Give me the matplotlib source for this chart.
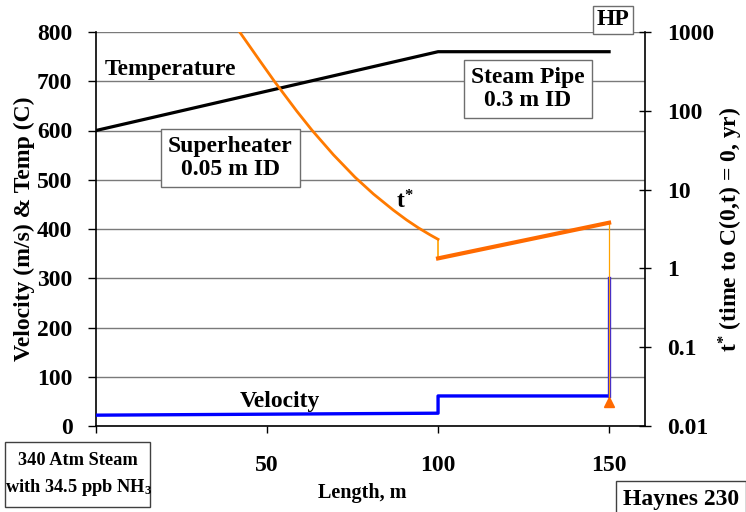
import matplotlib
matplotlib.use("Agg")
import matplotlib.pyplot as plt
from matplotlib.patches import Rectangle
from matplotlib.ticker import FixedLocator, FixedFormatter, NullLocator

# ---- data -------------------------------------------------------------
# wall temperature along the line (C)
temp_length = [0, 100, 150]
temperature = [600, 760, 760]

# steam velocity (m/s): superheater, steam pipe, then the HP inlet jump
vel_length = [0, 100, 100, 150, 150]
velocity = [22, 26, 61, 61, 300]

# t* (years) in the superheater section
tstar_sh_length = [42, 48, 52.3, 58.7, 63.1, 69.4, 75.7, 81.1, 86.9, 90.8, 94.3, 97.7, 100]
tstar_sh = [1000, 425, 232, 99, 57, 27.7, 14.4, 8.8, 5.5, 4.12, 3.26, 2.66, 2.34]
# t* in the steam pipe
tstar_pipe_length = [100, 150]
tstar_pipe = [1.34, 3.8]
# t* at the HP turbine inlet
tstar_hp_length = 150
tstar_hp = 0.02

x_ticks = [0, 50, 100, 150]
x_tick_labels = ["", "50", "100", "150"]
left_ticks = [0, 100, 200, 300, 400, 500, 600, 700, 800]
right_ticks = [0.01, 0.1, 1, 10, 100, 1000]
right_tick_labels = ["0.01", "0.1", "1", "10", "100", "1000"]

# ---- style ------------------------------------------------------------
plt.rcParams["font.family"] = ["Liberation Serif", "DejaVu Serif"]
plt.rcParams["font.weight"] = "bold"
plt.rcParams["mathtext.fontset"] = "custom"
plt.rcParams["mathtext.rm"] = "Liberation Serif:bold"
plt.rcParams["mathtext.bf"] = "Liberation Serif:bold"
plt.rcParams["mathtext.it"] = "Liberation Serif:italic:bold"

FS = 17
FS_SMALL = 14.5
W, H = 746, 512
fig = plt.figure(figsize=(W / 100, H / 100), dpi=100)
fig.subplots_adjust(left=96 / W, right=645 / W, bottom=1 - 426 / H, top=1 - 32 / H)
ax = fig.add_subplot(111)
ax2 = ax.twinx()

# ---- left axis: temperature and velocity -------------------------------
ax.plot(temp_length, temperature, color="black", lw=2.3, solid_capstyle="projecting", zorder=3)
ax.plot(vel_length[:4], velocity[:4], color="#0000FF", lw=2.4, zorder=3)
ax.plot(vel_length[3:], velocity[3:], color="#3020E0", lw=2.4, zorder=3)

ax.set_xlim(0, 160.5)
ax.set_ylim(0, 800)
ax.yaxis.set_major_locator(FixedLocator(left_ticks))
ax.xaxis.set_major_locator(FixedLocator(x_ticks))
ax.xaxis.set_major_formatter(FixedFormatter(x_tick_labels))
ax.yaxis.grid(True, color="#7a7a7a", lw=1.0)
ax.set_axisbelow(True)
ax.tick_params(axis="y", direction="out", length=6, width=1, pad=11, labelsize=FS)
ax.tick_params(axis="x", direction="out", length=5, width=1, pad=16, labelsize=FS)
for side in ("top", "right"):
    ax.spines[side].set_visible(False)
for side in ("left", "bottom"):
    ax.spines[side].set_linewidth(1.2)
    ax.spines[side].set_color("black")

ax.set_xlabel("Length, m", fontsize=FS_SMALL, fontweight="bold")
ax.xaxis.set_label_coords(0.4845, -0.145)
ax.set_ylabel("Velocity (m/s) & Temp (C)", fontsize=FS, fontweight="bold", va="center")
ax.yaxis.set_label_coords(-0.13, 0.5)

# ---- right axis: t* on log scale ----------------------------------------
ax2.set_yscale("log")
ax2.set_ylim(0.01, 1000)
ax2.plot(tstar_sh_length, tstar_sh, color="#FF7A00", lw=2.0, zorder=4)
ax2.plot([tstar_pipe_length[0]] * 2, [tstar_sh[-1], tstar_pipe[0]], color="#FFA200", lw=1.2)
ax2.plot(tstar_pipe_length, tstar_pipe, color="#FF6A00", lw=3.0, zorder=4)
ax2.plot([tstar_hp_length] * 2, [tstar_pipe[-1], tstar_hp], color="#FFA200", lw=0.9)
ax2.plot([tstar_hp_length], [tstar_hp], marker="^", color="#FF6A00", ms=7, ls="none", zorder=5)
ax2.yaxis.set_major_locator(FixedLocator(right_ticks))
ax2.yaxis.set_major_formatter(FixedFormatter(right_tick_labels))
ax2.yaxis.set_minor_locator(NullLocator())
ax2.tick_params(axis="y", direction="inout", length=8, width=1, pad=12, labelsize=FS)
for side in ("top", "left", "bottom"):
    ax2.spines[side].set_visible(False)
ax2.spines["right"].set_linewidth(1.2)
ax2.set_ylabel(r"t$^{*}$ (time to C(0,t) = 0, yr)", fontsize=FS, fontweight="bold",
               va="center", rotation=90)
ax2.yaxis.set_label_coords(1.157, 0.5)

# ---- annotations -------------------------------------------------------
box = dict(boxstyle="square,pad=0.3", facecolor="white", edgecolor="#6e6e6e", lw=1.0)
ax2.text(2.6, 723, "Temperature", transform=ax.transData, fontsize=FS,
         fontweight="bold", ha="left", va="center")
ax2.text(39.2, 544, "Superheater\n0.05 m ID", transform=ax.transData, fontsize=FS,
         fontweight="bold", ha="center", va="center", linespacing=1.12, bbox=box)
ax2.text(126.3, 684, "Steam Pipe\n0.3 m ID", transform=ax.transData, fontsize=FS,
         fontweight="bold", ha="center", va="center", linespacing=1.12, bbox=box)
ax2.text(151.2, 825, "HP", transform=ax.transData, fontsize=FS, fontweight="bold",
         ha="center", va="center", bbox=dict(boxstyle="square,pad=0.15", facecolor="white",
                                             edgecolor="#6e6e6e", lw=1.0), clip_on=False)
ax2.text(90.3, 455, r"t$^{*}$", transform=ax.transData, fontsize=FS, fontweight="bold",
         ha="center", va="center")
ax2.text(53.8, 49, "Velocity", transform=ax.transData, fontsize=FS, fontweight="bold",
         ha="center", va="center")

# operating-condition box at the lower left
fig.add_artist(Rectangle((5 / W, 1 - 507 / H), 145 / W, 65 / H, transform=fig.transFigure,
                         facecolor="white", edgecolor="#404040", lw=1.0))
fig.text(78 / W, 1 - 475 / H, "340 Atm Steam\nwith 34.5 ppb NH$_3$", fontsize=13.2,
         fontweight="bold", ha="center", va="center", linespacing=1.5)
fig.text(623 / W, 1 - 499 / H, "Haynes 230", fontsize=FS, fontweight="bold",
         ha="left", va="center",
         bbox=dict(boxstyle="square,pad=0.3", facecolor="white", edgecolor="#404040", lw=1.0))

fig.savefig("out.png", dpi=100)
